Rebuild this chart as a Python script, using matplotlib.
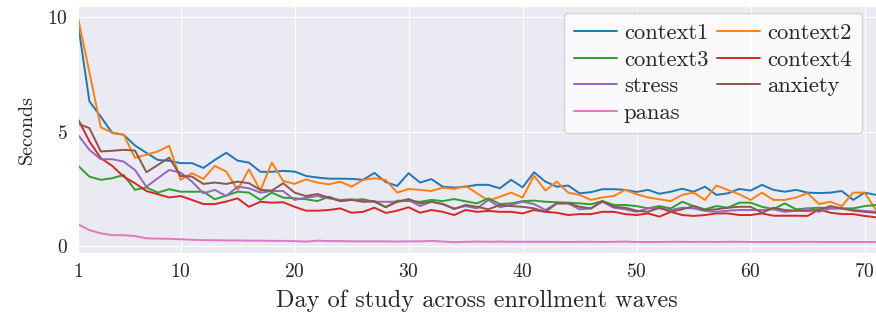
import matplotlib
matplotlib.use("Agg")
import matplotlib.pyplot as plt
import seaborn as sns
import numpy as np

days = list(range(1, 72))

context1 = [9.74, 6.33, 5.66, 4.95, 4.87, 4.40, 4.08, 3.77, 3.73, 3.63,
            3.63, 3.42, 3.77, 4.08, 3.74, 3.65, 3.25, 3.25, 3.29, 3.26,
            3.07, 3.00, 2.95, 2.95, 2.94, 2.90, 3.20, 2.80, 2.63, 3.19,
            2.78, 2.93, 2.60, 2.56, 2.60, 2.68, 2.68, 2.53, 2.90, 2.57,
            3.23, 2.82, 2.60, 2.65, 2.31, 2.36, 2.49, 2.49, 2.46, 2.37,
            2.46, 2.29, 2.38, 2.51, 2.38, 2.60, 2.24, 2.31, 2.50, 2.43,
            2.68, 2.46, 2.38, 2.46, 2.34, 2.32, 2.34, 2.41, 2.02, 2.34,
            2.24]
context2 = [10.0, 7.6, 5.19, 4.97, 4.88, 3.86, 4.00, 4.14, 4.39, 2.90,
            3.19, 2.94, 3.51, 3.26, 2.46, 3.36, 2.43, 3.65, 2.85, 2.72,
            2.92, 2.78, 2.70, 2.82, 2.60, 2.89, 2.97, 2.89, 2.34, 2.50,
            2.46, 2.41, 2.56, 2.50, 2.63, 2.31, 1.99, 2.16, 2.34, 2.12,
            3.08, 2.43, 2.82, 2.34, 2.24, 2.02, 2.13, 2.19, 2.46, 2.27,
            2.13, 2.05, 1.97, 2.24, 2.34, 2.02, 2.65, 2.46, 2.27, 2.02,
            2.34, 2.02, 2.02, 2.13, 2.31, 1.84, 1.94, 1.75, 2.34, 2.34,
            1.58]
context3 = [3.52, 3.04, 2.90, 2.97, 3.11, 2.46, 2.57, 2.34, 2.49, 2.38,
            2.38, 2.38, 2.05, 2.21, 2.38, 2.34, 2.02, 2.34, 2.12, 2.09,
            2.05, 1.97, 2.16, 1.99, 2.02, 2.05, 1.94, 1.71, 1.99, 1.97,
            1.94, 2.02, 1.97, 2.06, 1.96, 1.87, 2.09, 1.84, 1.87, 1.97,
            1.99, 1.94, 1.92, 1.90, 1.87, 1.83, 1.97, 1.80, 1.80, 1.75,
            1.65, 1.75, 1.65, 1.94, 1.75, 1.61, 1.75, 1.68, 1.90, 1.90,
            1.72, 1.62, 1.87, 1.61, 1.65, 1.68, 1.65, 1.65, 1.65, 1.75,
            1.80]
context4 = [5.56, 4.58, 3.85, 3.51, 3.04, 2.75, 2.41, 2.27, 2.13, 2.19,
            2.02, 1.84, 1.84, 1.95, 2.09, 1.72, 1.94, 1.90, 1.92, 1.72,
            1.55, 1.55, 1.58, 1.65, 1.46, 1.50, 1.68, 1.45, 1.55, 1.70,
            1.46, 1.58, 1.50, 1.36, 1.58, 1.50, 1.54, 1.50, 1.50, 1.43,
            1.58, 1.50, 1.46, 1.36, 1.40, 1.40, 1.50, 1.50, 1.40, 1.36,
            1.43, 1.29, 1.50, 1.36, 1.32, 1.36, 1.43, 1.43, 1.36, 1.36,
            1.43, 1.33, 1.33, 1.33, 1.32, 1.61, 1.46, 1.40, 1.40, 1.32,
            1.26]
stress = [4.87, 4.21, 3.80, 3.80, 3.70, 3.33, 2.60, 2.97, 3.33, 3.22,
          2.82, 2.31, 2.46, 2.19, 2.60, 2.53, 2.34, 2.41, 2.41, 2.02,
          2.12, 2.19, 2.09, 2.02, 2.05, 1.97, 1.94, 1.94, 1.94, 2.02,
          1.75, 1.94, 1.84, 1.65, 1.75, 1.65, 2.02, 1.70, 1.80, 1.94,
          1.84, 1.58, 1.87, 1.87, 1.61, 1.65, 1.94, 1.68, 1.61, 1.50,
          1.65, 1.65, 1.58, 1.68, 1.65, 1.54, 1.50, 1.55, 1.58, 1.58,
          1.58, 1.61, 1.50, 1.55, 1.65, 1.50, 1.65, 1.65, 1.58, 1.54,
          1.50]
anxiety = [5.35, 5.16, 4.14, 4.17, 4.21, 4.18, 3.23, 3.55, 3.87, 3.07,
           3.04, 2.72, 2.78, 2.72, 2.82, 2.75, 2.46, 2.43, 2.75, 2.34,
           2.19, 2.28, 2.12, 1.97, 2.02, 1.94, 1.97, 1.70, 1.94, 2.06,
           1.87, 1.94, 1.84, 1.62, 1.80, 1.72, 1.61, 1.80, 1.75, 1.72,
           1.65, 1.50, 1.87, 1.87, 1.72, 1.65, 1.97, 1.72, 1.68, 1.55,
           1.50, 1.68, 1.50, 1.61, 1.75, 1.58, 1.61, 1.68, 1.72, 1.72,
           1.46, 1.68, 1.58, 1.55, 1.54, 1.58, 1.75, 1.65, 1.55, 1.50,
           1.46]
panas = [0.96, 0.70, 0.56, 0.48, 0.48, 0.44, 0.34, 0.33, 0.32, 0.30,
         0.28, 0.26, 0.26, 0.25, 0.25, 0.24, 0.24, 0.23, 0.23, 0.22,
         0.20, 0.24, 0.22, 0.22, 0.21, 0.21, 0.21, 0.21, 0.20, 0.21,
         0.21, 0.23, 0.20, 0.17, 0.19, 0.20, 0.19, 0.20, 0.19, 0.19,
         0.19, 0.19, 0.19, 0.18, 0.19, 0.19, 0.18, 0.19, 0.20, 0.18,
         0.18, 0.18, 0.19, 0.19, 0.18, 0.19, 0.18, 0.19, 0.19, 0.18,
         0.18, 0.18, 0.18, 0.18, 0.19, 0.18, 0.18, 0.18, 0.18, 0.18,
         0.18]

series_names = ["context1", "context2", "context3", "context4",
                "stress", "anxiety", "panas"]
series_values = [context1, context2, context3, context4, stress, anxiety, panas]
xticks = [1, 10, 20, 30, 40, 50, 60, 70]
yticks = [0, 5, 10]

sns.set_style("darkgrid")
plt.rcParams["font.family"] = ["serif"]
plt.rcParams["font.serif"] = ["cmr10", "DejaVu Serif"]
plt.rcParams["mathtext.fontset"] = "cm"
plt.rcParams["axes.formatter.use_mathtext"] = True
plt.rcParams["axes.unicode_minus"] = False

fig = plt.figure(figsize=(8.76, 3.17), dpi=100)
ax = fig.add_axes([78 / 876, 1 - 253 / 317, 1 - 78 / 876, (253 - 6) / 317])

colors = plt.get_cmap("tab10").colors
lines = []
for name, vals, c in zip(series_names, series_values, colors):
    ln, = ax.plot(days, vals, label=name, color=c, lw=1.4)
    lines.append(ln)

ax.set_xlim(1, 71)
ax.set_ylim(-0.3, 10.5)
ax.set_xticks(xticks)
ax.set_yticks(yticks)
ax.tick_params(labelsize=14, pad=4)
ax.set_xlabel("Day of study across enrollment waves", fontsize=17.5, labelpad=6)
ax.set_ylabel("Seconds", fontsize=14.5, labelpad=8)

# row-wise ordering for a 2-column legend
order = [0, 2, 4, 6, 1, 3, 5]
leg = ax.legend([lines[i] for i in order], [series_names[i] for i in order],
                ncol=2, loc="upper right", bbox_to_anchor=(0.9825, 0.972),
                fontsize=16.3, frameon=True, borderaxespad=0,
                handlelength=1.9, columnspacing=0.4, labelspacing=0.3,
                borderpad=0.45, handletextpad=0.31)
leg.get_frame().set_facecolor("white")
leg.get_frame().set_alpha(0.8)
leg.get_frame().set_edgecolor("#cccccc")

fig.savefig("out.png", dpi=100)
